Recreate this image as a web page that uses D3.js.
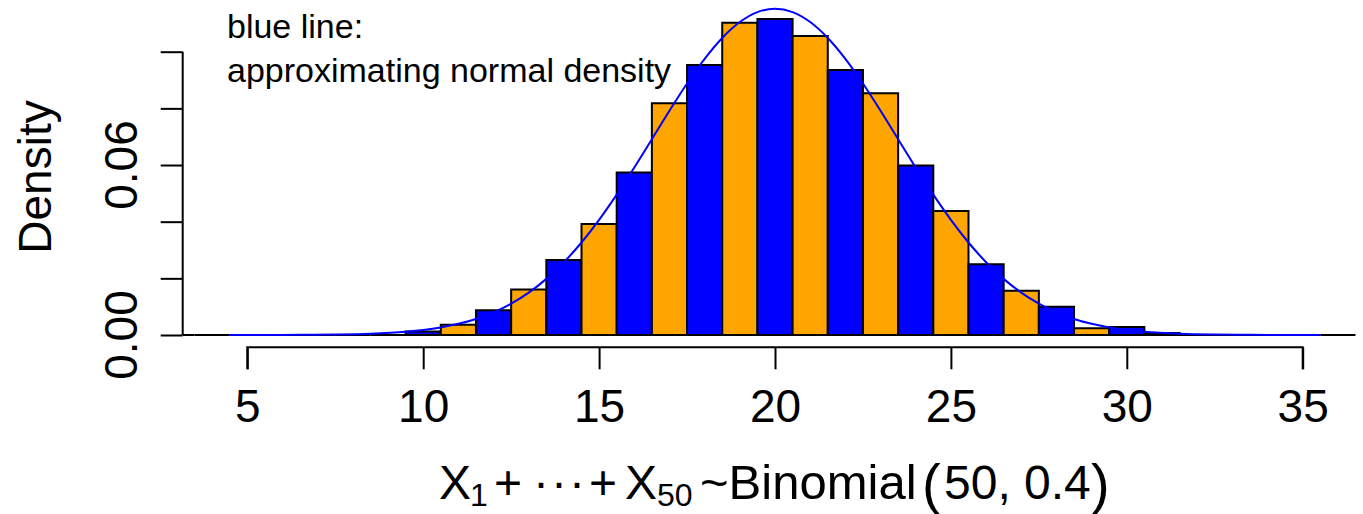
<!DOCTYPE html>
<html>
<head>
<meta charset="utf-8">
<script src="https://cdn.jsdelivr.net/npm/d3@7"></script>
<style>
  body { margin: 0; background: #fff; }
  svg { display: block; }
  text { font-family: "Liberation Sans", Arial, Helvetica, sans-serif; fill: #000; }
</style>
</head>
<body>
<div id="chart"></div>
<script>
// histogram of simulated sums, one bar per integer value (breaks at k +/- 0.5)
const binCenters = d3.range(3, 37);
const binDensity = [
  0, 0, 0, 0, 0, 0, 0,                 // 3..9
  0.0012, 0.0036, 0.0087, 0.0161, 0.0265, // 10..14
  0.0392, 0.0574, 0.0818, 0.0953, 0.1102, // 15..19
  0.1115, 0.1055, 0.0935, 0.0853, 0.0598, // 20..24
  0.0438, 0.0250, 0.0156, 0.0100, 0.0024, // 25..29
  0.0028, 0.0007,                         // 30..31
  0, 0, 0, 0, 0                           // 32..36
];

// approximating normal density, mean 20, sd sqrt(12)
const curveX = [4.5, 5.5, 6.5, 7.5, 8.5, 9.5, 10, 10.5, 11, 11.5, 12, 12.5, 13, 13.5, 14, 14.5, 15, 15.5,
  16, 16.5, 17, 17.5, 18, 18.5, 19, 19.5, 20, 20.5, 21, 21.5, 22, 22.5, 23, 23.5, 24, 24.5,
  25, 25.5, 26, 26.5, 27, 27.5, 28, 28.5, 29, 29.5, 30, 30.5, 31.5, 32.5, 33.5, 34.5, 35.5];
const curveY = [0.0000052, 0.000018, 0.000058, 0.000171, 0.000466, 0.001165, 0.001785, 0.002680, 0.003941, 0.005674,
  0.008002, 0.01105, 0.01495, 0.01981, 0.02570, 0.03265, 0.04064, 0.04953, 0.05913, 0.06913, 0.07915, 0.08876,
  0.09748, 0.10485, 0.11046, 0.11397, 0.11516, 0.11397, 0.11046, 0.10485, 0.09748, 0.08876, 0.07915, 0.06913,
  0.05913, 0.04953, 0.04064, 0.03265, 0.02570, 0.01981, 0.01495, 0.01105, 0.008002, 0.005674, 0.003941, 0.002680,
  0.001785, 0.001165, 0.000466, 0.000171, 0.000058, 0.000018, 0.0000052];

const xTicks = [5, 10, 15, 20, 25, 30, 35];
const yTicks = [0, 0.02, 0.04, 0.06, 0.08, 0.10];
const yLabelled = [0, 0.06];

const width = 1363, height = 514;

const svg = d3.select("#chart").append("svg")
  .attr("width", width)
  .attr("height", height);

const x = d3.scaleLinear().domain([5, 35]).range([247.3, 1302.7]);
const y = d3.scaleLinear().domain([0, 0.1]).range([335, 51.7]);

svg.append("clipPath").attr("id", "plotclip")
  .append("rect").attr("x", 183).attr("y", 0).attr("width", width - 183).attr("height", height);

//Bars as paths so that empty bins still draw their outline on the baseline
const bars = svg.append("g").attr("clip-path", "url(#plotclip)");
bars.selectAll("path")
  .data(binCenters)
  .enter().append("path")
  .attr("d", (d, i) => {
    let x0 = x(d - 0.5), x1 = x(d + 0.5), y0 = y(0), y1 = y(binDensity[i]);
    return `M${x0},${y0}V${y1}H${x1}V${y0}Z`;
  })
  .attr("fill", (d) => d % 2 == 0 ? "#0000FF" : "#FFA500")
  .attr("stroke", "#000")
  .attr("stroke-width", 2);

//Normal curve
const line = d3.line()
  .x((d) => x(d[0]))
  .y((d) => y(d[1]))
  .curve(d3.curveMonotoneX);

svg.append("path")
  .datum(curveX.map((v, i) => [v, curveY[i]]))
  .attr("d", line)
  .attr("fill", "none")
  .attr("stroke", "#0000FF")
  .attr("stroke-width", 2);

//x axis
const xAxis = svg.append("g")
  .attr("transform", "translate(0,347.3)")
  .call(d3.axisBottom(x).tickValues(xTicks).tickSize(22).tickPadding(12).tickFormat(d3.format("d")));
xAxis.selectAll("path, line").attr("stroke", "#000").attr("stroke-width", 2);
xAxis.select(".domain").attr("d", `M${x(5)},22V0H${x(35)}V22`);
xAxis.selectAll("text")
  .attr("font-size", 46)
  .attr("font-family", "Liberation Sans, Arial, sans-serif")
  .attr("dy", null)
  .attr("y", 74.4);

//y axis
const yAxis = svg.append("g")
  .attr("transform", "translate(182.7,0)")
  .call(d3.axisLeft(y).tickValues(yTicks).tickSize(22).tickFormat(""));
yAxis.selectAll("path, line").attr("stroke", "#000").attr("stroke-width", 2);
yAxis.select(".domain").attr("d", `M0,${y(0)}V${y(0.1)}`);

svg.selectAll(".ylab")
  .data(yLabelled)
  .enter().append("text")
  .attr("class", "ylab")
  .attr("transform", (d) => `translate(137,${y(d)}) rotate(-90)`)
  .attr("text-anchor", "middle")
  .attr("font-size", 46)
  .text((d) => d3.format(".2f")(d));

svg.append("text")
  .attr("transform", "translate(51,177) rotate(-90)")
  .attr("text-anchor", "middle")
  .attr("font-size", 46)
  .text("Density");

//annotation
svg.append("text").attr("x", 227).attr("y", 38).attr("font-size", 34).text("blue line:");
svg.append("text").attr("x", 227).attr("y", 81.5).attr("font-size", 34).text("approximating normal density");

//x label, plotmath style
const xl = svg.append("text").attr("y", 499).attr("font-size", 48);
xl.append("tspan").attr("x", 439).text("X");
xl.append("tspan").attr("x", 470).attr("dy", 7).attr("font-size", 32).text("1");
xl.append("tspan").attr("x", 494).attr("dy", -7).text("+");
xl.append("tspan").attr("x", 533).attr("letter-spacing", 2).text("\u00B7\u00B7\u00B7");
xl.append("tspan").attr("x", 589).text("+");
xl.append("tspan").attr("x", 625).text("X");
xl.append("tspan").attr("x", 657).attr("dy", 7).attr("font-size", 32).text("50");
xl.append("tspan").attr("x", 700).attr("dy", -7).attr("font-size", 49).text("~Binomial");
xl.append("tspan").attr("x", 922).attr("font-size", 56).attr("dy", 4).text("(");
xl.append("tspan").attr("x", 944).attr("dy", -4).text("50, 0.4");
xl.append("tspan").attr("x", 1091).attr("font-size", 56).attr("dy", 4).text(")");
</script>
</body>
</html>
